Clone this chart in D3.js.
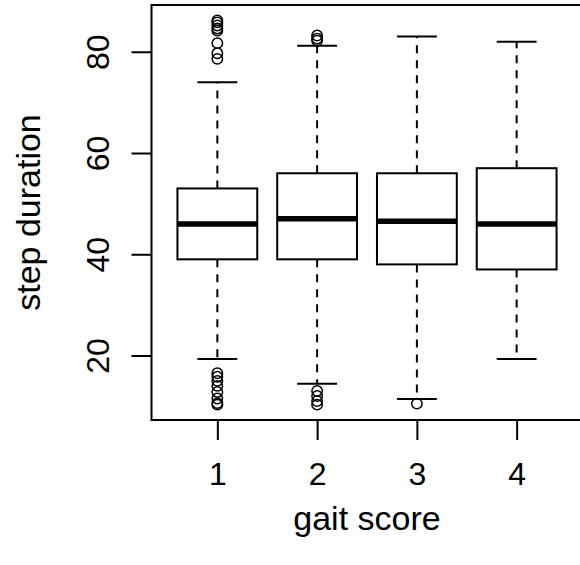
<!DOCTYPE html>
<html>
<head>
<meta charset="utf-8">
<script src="https://cdn.jsdelivr.net/npm/d3@7"></script>
<style>
  body { margin: 0; background: white; }
</style>
</head>
<body>
<div id="chart"></div>
<script>
// DATA
var categories = ['1', '2', '3', '4']
var q1 = [39, 39, 38, 37]
var medians = [46, 47, 46.5, 46]
var q3 = [53, 56, 56, 57]
var whiskerLow = [19.3, 14.4, 11.4, 19.3]
var whiskerHigh = [74, 81.2, 83, 82]
var outliers = [
  [86.2, 85.8, 85.2, 84.6, 84.2, 81.7, 79.7, 78.6, 16.5, 15.8, 15, 14, 12.8, 11.5, 10.6, 10.3],
  [83.2, 82.6, 82.2, 13, 12, 11, 10.3],
  [10.5],
  []
]
var yTicks = [20, 40, 60, 80]

// GLOBAL
var width = 580
var height = 565
var margin = {top: 5, left: 151.5, bottom: 145, right: -2.5}
var fontFamily = '"Liberation Sans", Arial, sans-serif'

var svg = d3.select('#chart').append('svg')
  .attr('width', width)
  .attr('height', height)

// R style axis ranges: 4% padding each side
var allVals = whiskerLow.concat(whiskerHigh).concat(outliers.flat())
var yMin = d3.min(allVals), yMax = d3.max(allVals)
var yPad = (yMax - yMin) * 0.04
var nCat = categories.length
var xPad = nCat * 0.04

var xMap = d3.scaleLinear()
  .domain([0.5 - xPad, nCat + 0.5 + xPad])
  .range([margin.left, width - margin.right])

var yMap = d3.scaleLinear()
  .domain([yMin - yPad, yMax + yPad])
  .range([height - margin.bottom, margin.top])

var boxHalf = 0.4
var capHalf = 0.2

function attachFont(text, size) {
  text.style('font-family', fontFamily)
    .style('font-size', size + 'px')
    .style('fill', 'black')
}

// BOXES
var gBox = svg.selectAll('.box')
  .data(categories)
  .enter().append('g')
  .attr('class', 'box')

// whiskers (dashed)
gBox.append('line')
  .attr('x1', (d, i) => xMap(i + 1))
  .attr('x2', (d, i) => xMap(i + 1))
  .attr('y1', (d, i) => yMap(q3[i]))
  .attr('y2', (d, i) => yMap(whiskerHigh[i]))
  .style('stroke', 'black')
  .style('stroke-width', 2)
  .style('stroke-dasharray', '8,7')

gBox.append('line')
  .attr('x1', (d, i) => xMap(i + 1))
  .attr('x2', (d, i) => xMap(i + 1))
  .attr('y1', (d, i) => yMap(q1[i]))
  .attr('y2', (d, i) => yMap(whiskerLow[i]))
  .style('stroke', 'black')
  .style('stroke-width', 2)
  .style('stroke-dasharray', '8,7')

// staples
gBox.append('line')
  .attr('x1', (d, i) => xMap(i + 1 - capHalf))
  .attr('x2', (d, i) => xMap(i + 1 + capHalf))
  .attr('y1', (d, i) => yMap(whiskerHigh[i]))
  .attr('y2', (d, i) => yMap(whiskerHigh[i]))
  .style('stroke', 'black')
  .style('stroke-width', 2)

gBox.append('line')
  .attr('x1', (d, i) => xMap(i + 1 - capHalf))
  .attr('x2', (d, i) => xMap(i + 1 + capHalf))
  .attr('y1', (d, i) => yMap(whiskerLow[i]))
  .attr('y2', (d, i) => yMap(whiskerLow[i]))
  .style('stroke', 'black')
  .style('stroke-width', 2)

gBox.append('rect')
  .attr('x', (d, i) => xMap(i + 1 - boxHalf))
  .attr('y', (d, i) => yMap(q3[i]))
  .attr('width', xMap(1 + boxHalf) - xMap(1 - boxHalf))
  .attr('height', (d, i) => yMap(q1[i]) - yMap(q3[i]))
  .style('fill', 'white')
  .style('stroke', 'black')
  .style('stroke-width', 2)

gBox.append('line')
  .attr('x1', (d, i) => xMap(i + 1 - boxHalf))
  .attr('x2', (d, i) => xMap(i + 1 + boxHalf))
  .attr('y1', (d, i) => yMap(medians[i]))
  .attr('y2', (d, i) => yMap(medians[i]))
  .style('stroke', 'black')
  .style('stroke-width', 5.5)

// outliers
gBox.each(function(d, i) {
  d3.select(this).selectAll('circle')
    .data(outliers[i])
    .enter().append('circle')
    .attr('cx', xMap(i + 1))
    .attr('cy', v => yMap(v))
    .attr('r', 5.2)
    .style('fill', 'none')
    .style('stroke', 'black')
    .style('stroke-width', 1.5)
})

// PLOT FRAME
svg.append('rect')
  .attr('x', margin.left)
  .attr('y', margin.top)
  .attr('width', xMap.range()[1] - margin.left)
  .attr('height', yMap.range()[0] - margin.top)
  .style('fill', 'none')
  .style('stroke', 'black')
  .style('stroke-width', 2)

// AXES
var xAxis = d3.axisBottom(xMap)
  .tickValues(categories.map((d, i) => i + 1))
  .tickFormat((d, i) => categories[i])
  .tickSize(20)
  .tickPadding(5)

var gXAxis = svg.append('g')
  .attr('transform', 'translate(' + [0, yMap.range()[0]] + ')')
  .call(xAxis)

gXAxis.select('.domain').remove()
gXAxis.selectAll('line').style('stroke', 'black').style('stroke-width', 2)
gXAxis.selectAll('text').attr('y', 0).attr('dy', null)
  .attr('transform', 'translate(0,' + 65 + ')')
attachFont(gXAxis.selectAll('text'), 32)

var yAxis = d3.axisLeft(yMap)
  .tickValues(yTicks)
  .tickSize(20)

var gYAxis = svg.append('g')
  .attr('transform', 'translate(' + [margin.left, 0] + ')')
  .call(yAxis)

gYAxis.select('.domain').remove()
gYAxis.selectAll('line').style('stroke', 'black').style('stroke-width', 2)
gYAxis.selectAll('text')
  .attr('x', null).attr('dy', null)
  .attr('transform', 'translate(' + (-43) + ',0) rotate(-90)')
  .style('text-anchor', 'middle')
attachFont(gYAxis.selectAll('text'), 32)

// LABELS
var xLab = svg.append('text')
  .attr('x', (margin.left + xMap.range()[1]) / 2)
  .attr('y', 530)
  .style('text-anchor', 'middle')
  .text('gait score')
attachFont(xLab, 34)

var yLab = svg.append('text')
  .attr('transform', 'translate(' + [40, (margin.top + yMap.range()[0]) / 2] + ') rotate(-90)')
  .style('text-anchor', 'middle')
  .text('step duration')
attachFont(yLab, 34)
</script>
</body>
</html>
